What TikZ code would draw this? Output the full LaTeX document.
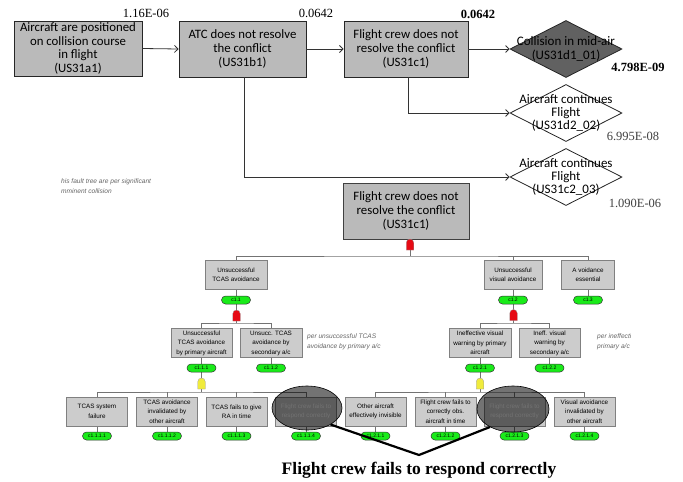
\documentclass[tikz,border=0pt]{standalone}
\usepackage{fontspec}
\setmainfont{Liberation Serif}
\newfontfamily\carl{Carlito}
\newfontfamily\ari{Liberation Sans}
\usetikzlibrary{arrows.meta,shapes.geometric,shapes.misc,backgrounds}
\definecolor{ovg}{RGB}{25,235,25}
\definecolor{gred}{RGB}{230,10,20}
\definecolor{gyel}{RGB}{240,235,60}
\begin{document}
\begin{tikzpicture}[x=1pt,y=-1pt,
  topbox/.style={draw=black!85, fill=black!27, line width=0.9pt, font=\carl\fontsize{12.8}{13.8}\selectfont, align=center, inner sep=0pt},
  dia/.style={diamond, draw=black!85, line width=0.8pt, inner sep=0pt, minimum width=112pt, minimum height=57pt},
  diatext/.style={font=\carl\fontsize{13}{13.4}\selectfont, align=center, inner sep=0pt},
  num/.style={font=\fontsize{12.5}{14}\selectfont, inner sep=0pt},
  arr/.style={draw=black!80, line width=0.8pt, -{Straight Barb[length=3.5pt,width=7pt]}},
  fb/.style={draw=black!50, fill=black!20, line width=0.6pt, font=\ari\fontsize{6.3}{9.5}\selectfont, text=black, align=center, inner sep=0pt, minimum height=29pt, minimum width=61pt},
  ov/.style={rounded rectangle, draw=black!80, fill=ovg, line width=0.5pt, minimum width=29pt, minimum height=8pt, inner sep=0pt, font=\ari\fontsize{5}{5}\selectfont},
  gate/.style={rounded rectangle, rounded rectangle east arc=none, rotate=-90, minimum width=11pt, minimum height=7.5pt, inner sep=0pt, draw=black!40, line width=0.3pt},
  tl/.style={draw=black!55, line width=0.6pt},
  note/.style={font=\ari\itshape\fontsize{6.6}{10}\selectfont, text=black!60, align=left, inner sep=0pt, anchor=north west},
  hl/.style={ellipse, draw=black, line width=0.6pt, fill=black, fill opacity=0.55, inner sep=0pt}
]
\useasboundingbox (0,0) rectangle (683,482);
\begin{pgfonlayer}{background}
\fill[white] (0,0) rectangle (683,482);
\end{pgfonlayer}

% ---------------- top event tree ----------------
\node[topbox, minimum width=128pt, minimum height=55pt] (a1) at (78,48.5) {Aircraft are positioned\\on collision course\\in flight\\(US31a1)};
\node[topbox, minimum width=127pt, minimum height=56pt] (b1) at (242.5,49) {ATC does not resolve\\the conflict\\(US31b1)};
\node[topbox, minimum width=124pt, minimum height=56pt] (c1) at (406,49) {Flight crew does not\\resolve the conflict\\(US31c1)};

\node[dia, fill=black!62] (d1) at (566,49) {};
\node[diatext] (d1t) at (566,49) {Collision in mid-air\\(US31d1\_01)};
\node[dia, fill=white] (d2) at (566,113) {};
\node[diatext] (d2t) at (566,113) {Aircraft continues\\Flight\\(US31d2\_02)};
\node[dia, fill=white] (d3) at (566,177) {};
\node[diatext] (d3t) at (566,177) {Aircraft continues\\Flight\\(US31c2\_03)};

\node[num] (n1) at (146,13) {1.16E-06};
\node[num] (n2) at (316,13) {0.0642};
\node[num, font=\bfseries\fontsize{12.5}{14}\selectfont] (n3) at (478,14) {0.0642};
\node[num, font=\bfseries\fontsize{12.5}{14}\selectfont] (n4) at (638,67) {4.798E-09};
\node[num, text=black!75] (n5) at (633,136) {6.995E-08};
\node[num, text=black!75] (n6) at (635,203) {1.090E-06};

\draw[arr] (a1.east) -- (b1.west);
\draw[arr] (b1.east) -- (c1.west);
\draw[arr] (c1.east) -- (d1.west);
\draw[arr] ([xshift=2pt]c1.south) |- (d2.west);
\draw[arr] ([xshift=2pt]b1.south) |- (d3.west);

% ---------------- fault tree excerpt ----------------
\node[note] (nt) at (61,179) {his fault tree are \textit{per significant}\\\textit{mminent collision}};
\begin{scope}
\clip (60,175) rectangle (630,450);
\node[note] (nr) at (597,334) {per ineffective visual\\primary a/c};
\end{scope}
\node[note] (nl) at (307,334) {per unsuccessful TCAS\\avoidance by primary a/c};

\node[topbox, draw=black!75, line width=0.8pt, minimum width=126pt, minimum height=56pt] (ft) at (406,211) {Flight crew does not\\resolve the conflict\\(US31c1)};

% level 1
\node[fb, minimum width=62pt] (u1) at (236,274.5) {Unsuccessful\\TCAS avoidance};
\node[fb, minimum width=58pt] (u2) at (513,274.5) {Unsuccessful\\visual avoidance};
\node[fb, minimum width=53pt] (u3) at (588,274.5) {A voidance\\essential};
\node[ov] (o1) at (236,300) {c1.1};
\node[ov] (o2) at (513,300) {c1.2};
\node[ov] (o3) at (588,300) {c1.3};

% level 2
\node[fb] (v1) at (201.5,343) {Unsuccessful\\TCAS avoidance\\by primary aircraft};
\node[fb, minimum width=62pt] (v2) at (271,343) {Unsucc. TCAS\\avoidance by\\secondary a/c};
\node[fb, minimum width=62pt] (v3) at (480,343) {Ineffective visual\\warning by primary\\aircraft};
\node[fb] (v4) at (549.5,343) {Ineff. visual\\warning by\\secondary a/c};
\node[ov] (p1) at (201.5,368) {c1.1.1};
\node[ov] (p2) at (271,368) {c1.1.2};
\node[ov] (p3) at (480,368) {c1.2.1};
\node[ov] (p4) at (549.5,368) {c1.2.2};

% level 3
\node[fb] (w1) at (97,411.5) {TCAS system\\failure};
\node[fb] (w2) at (167,411.5) {TCAS avoidance\\invalidated by\\other aircraft};
\node[fb] (w3) at (236.5,411.5) {TCAS fails to give\\RA in time};
\node[fb, text=white] (w4) at (306,411.5) {Flight crew fails to\\respond correctly};
\node[fb] (w5) at (375.5,411.5) {Other aircraft\\effectively invisible};
\node[fb] (w6) at (445.5,411.5) {Flight crew fails to\\correctly obs.\\aircraft in time};
\node[fb, text=white] (w7) at (514.5,411.5) {Flight crew fails to\\respond correctly};
\node[fb] (w8) at (584.5,411.5) {Visual avoidance\\invalidated by\\other aircraft};
\node[ov] (q1) at (97,436) {c1.1.1.1};
\node[ov] (q2) at (167,436) {c1.1.1.2};
\node[ov] (q3) at (236.5,436) {c1.1.1.3};
\node[ov] (q4) at (306,436) {c1.1.1.4};
\node[ov] (q5) at (375.5,436) {c1.2.1.1};
\node[ov] (q6) at (445.5,436) {c1.2.1.2};
\node[ov] (q7) at (514.5,436) {c1.2.1.3};
\node[ov] (q8) at (584.5,436) {c1.2.1.4};

% gates
\node[gate, fill=gred] (g0) at (410,244.5) {};
\node[gate, fill=gred] (g1) at (236.5,315.5) {};
\node[gate, fill=gred] (g2) at (513.5,315) {};
\node[gate, fill=gyel] (g3) at (201.5,383.5) {};
\node[gate, fill=gyel] (g4) at (480,383.5) {};

\coordinate (b0) at (410,256);
\coordinate (b1) at (236.5,323);
\coordinate (b2) at (513.5,323);
\coordinate (b3) at (201.5,392);
\coordinate (b4) at (480,392);

\begin{pgfonlayer}{background}
\draw[tl] (b0 |- ft.south) -- (b0);
\draw[tl] (u1.north) |- (b0) -| (u3.north);
\draw[tl] (u2.north) -- (u2.north |- b0);
\draw[tl] (u1.south) -- (o1.north);
\draw[tl] (u2.south) -- (o2.north);
\draw[tl] (u3.south) -- (o3.north);
\draw[tl] (b1 |- o1.south) -- (b1);
\draw[tl] (v1.north) |- (b1) -| (v2.north);
\draw[tl] (b2 |- o2.south) -- (b2);
\draw[tl] (v3.north) |- (b2) -| (v4.north);
\draw[tl] (v1.south) -- (p1.north);
\draw[tl] (v2.south) -- (p2.north);
\draw[tl] (v3.south) -- (p3.north);
\draw[tl] (v4.south) -- (p4.north);
\draw[tl] (b3 |- p1.south) -- (b3);
\draw[tl] (w1.north) |- (b3) -| (w4.north);
\draw[tl] (w2.north) -- (w2.north |- b3);
\draw[tl] (w3.north) -- (w3.north |- b3);
\draw[tl] (b4 |- p3.south) -- (b4);
\draw[tl] (w5.north) |- (b4) -| (w8.north);
\draw[tl] (w6.north) -- (w6.north |- b4);
\draw[tl] (w7.north) -- (w7.north |- b4);
\foreach \i in {1,...,8} {\draw[tl] (w\i.south) -- (q\i.north);}
\end{pgfonlayer}

% highlights
\node[hl, minimum width=70pt, minimum height=44pt] (e1) at (307,408) {};
\node[hl, minimum width=72pt, minimum height=46pt] (e2) at (513,409) {};
\coordinate (vx) at (419,455);
\draw[black, line width=2.2pt] (e1.-35) -- (vx) -- (e2.-142);

\node[font=\bfseries\fontsize{17.5}{20}\selectfont, inner sep=0pt] (cap) at (419,470) {Flight crew fails to respond correctly};
\end{tikzpicture}
\end{document}
